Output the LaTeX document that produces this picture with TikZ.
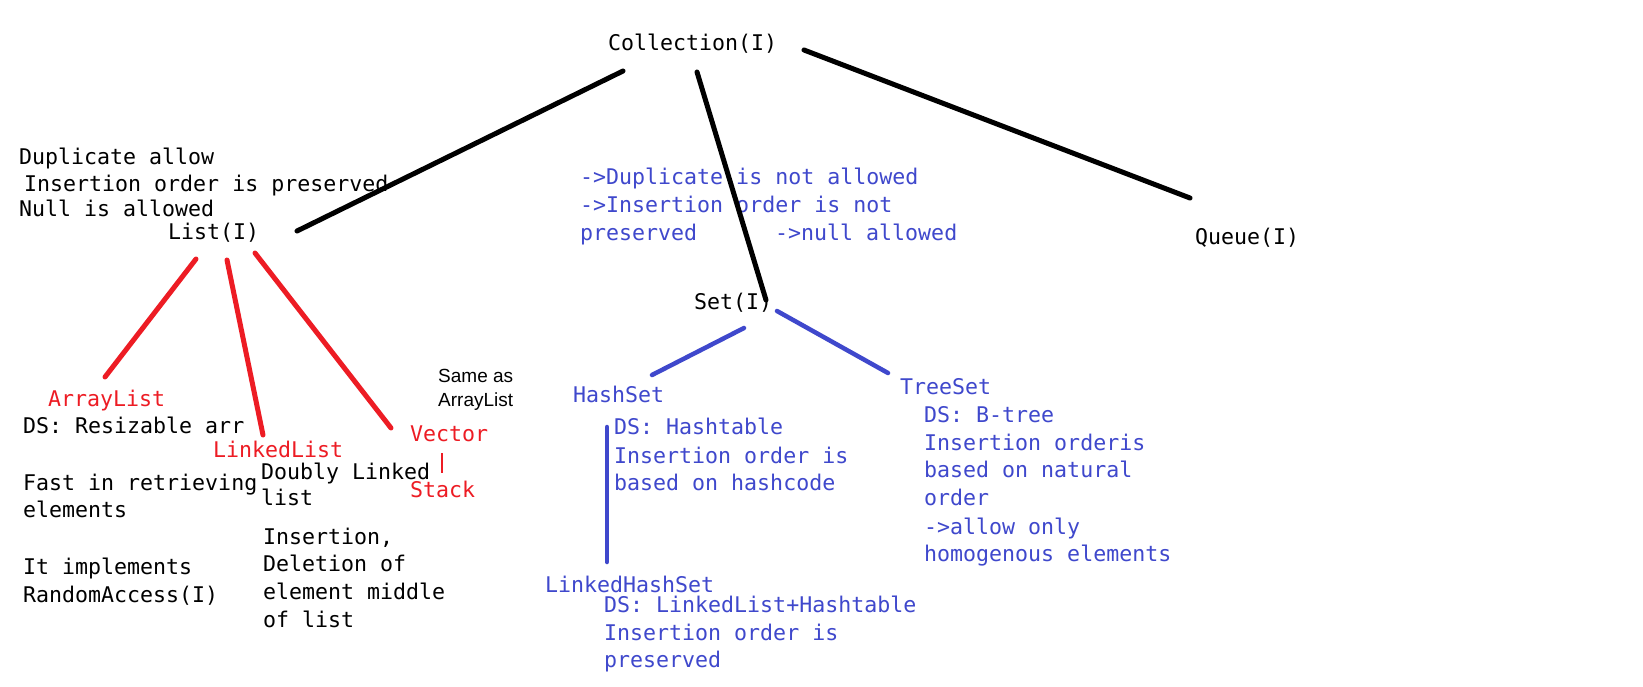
\documentclass[tikz,border=0pt]{standalone}
\usepackage{fontspec}
\newfontfamily\monofont{DejaVu Sans Mono}
\newfontfamily\smallsans{Liberation Sans}
\definecolor{pblue}{HTML}{3F48CC}
\definecolor{pred}{HTML}{ED1C24}
\tikzset{
  txt/.style={font=\monofont\fontsize{21.6}{26}\selectfont, anchor=base west, inner sep=0pt, text=black},
  btxt/.style={txt, text=pblue},
  rtxt/.style={txt, text=pred},
  note/.style={font=\smallsans\fontsize{19}{22}\selectfont, anchor=base west, inner sep=0pt, text=black},
  kline/.style={line width=5pt, line cap=round, black},
  rline/.style={line width=5pt, line cap=round, pred},
  uline/.style={line width=4.5pt, line cap=round, pblue},
}
\begin{document}
\begin{tikzpicture}[x=1pt,y=-1pt]
\useasboundingbox[fill=white] (0,0) rectangle (1643,686);

% main interface nodes
\node[txt] (coll) at (608,50) {Collection(I)};
\node[txt] (list) at (168,239) {List(I)};
\node[txt] (set) at (694,309) {Set(I)};
\node[txt] (queue) at (1195,244) {Queue(I)};

% list notes
\node[txt] (ln1) at (19,164) {Duplicate allow};
\node[txt] (ln2) at (24,191) {Insertion order is preserved};
\node[txt] (ln3) at (19,216) {Null is allowed};

% set notes
\node[btxt] (sn1) at (580,184) {->Duplicate is not allowed};
\node[btxt] (sn2) at (580,212) {->Insertion order is not};
\node[btxt] (sn3) at (580,240) {preserved};
\node[btxt] (sn4) at (775,240) {->null allowed};

% list implementations
\node[rtxt] (al) at (48,406) {ArrayList};
\node[txt] (al1) at (23,433) {DS: Resizable arr};
\node[txt] (al2) at (23,490) {Fast in retrieving};
\node[txt] (al3) at (23,517) {elements};
\node[txt] (al4) at (23,574) {It implements};
\node[txt] (al5) at (23,602) {RandomAccess(I)};

\node[rtxt] (ll) at (213,457) {LinkedList};
\node[txt] (ll1) at (261,479) {Doubly Linked};
\node[txt] (ll2) at (261,505) {list};
\node[txt] (ll3) at (263,544) {Insertion,};
\node[txt] (ll4) at (263,571) {Deletion of};
\node[txt] (ll5) at (263,599) {element middle};
\node[txt] (ll6) at (263,627) {of list};

\node[rtxt] (vec) at (410,441) {Vector};
\node[rtxt] (stk) at (410,497) {Stack};
\node[note] (same1) at (438,382) {Same as};
\node[note] (same2) at (438,406) {ArrayList};

% set implementations
\node[btxt] (hs) at (573,402) {HashSet};
\node[btxt] (hs1) at (614,434) {DS: Hashtable};
\node[btxt] (hs2) at (614,463) {Insertion order is};
\node[btxt] (hs3) at (614,490) {based on hashcode};

\node[btxt] (lhs) at (545,592) {LinkedHashSet};
\node[btxt] (lhs1) at (604,612) {DS: LinkedList+Hashtable};
\node[btxt] (lhs2) at (604,640) {Insertion order is};
\node[btxt] (lhs3) at (604,667) {preserved};

\node[btxt] (ts) at (900,394) {TreeSet};
\node[btxt] (ts1) at (924,422) {DS: B-tree};
\node[btxt] (ts2) at (924,450) {Insertion orderis};
\node[btxt] (ts3) at (924,477) {based on natural};
\node[btxt] (ts4) at (924,505) {order};
\node[btxt] (ts5) at (924,534) {->allow only};
\node[btxt] (ts6) at (924,561) {homogenous elements};

% connector end points
\coordinate (cL) at (623,71);
\coordinate (Lc) at (297,231);
\coordinate (cS) at (697,72);
\coordinate (Sc) at (766,300);
\coordinate (cQ) at (804,50);
\coordinate (Qc) at (1190,198);

\coordinate (La) at (196,259);
\coordinate (aL) at (105,377);
\coordinate (Ll) at (227,260);
\coordinate (lL) at (263,435);
\coordinate (Lv) at (255,253);
\coordinate (vL) at (391,428);
\coordinate (vs1) at (442,453);
\coordinate (vs2) at (442,473);

\coordinate (Sh) at (744,328);
\coordinate (hS) at (652,375);
\coordinate (St) at (777,311);
\coordinate (tS) at (888,373);
\coordinate (hl1) at (607,427);
\coordinate (hl2) at (607,562);

% connectors
\draw[kline] (cL) -- (Lc);
\draw[kline] (cS) -- (Sc);
\draw[kline] (cQ) -- (Qc);

\draw[rline] (La) -- (aL);
\draw[rline] (Ll) -- (lL);
\draw[rline] (Lv) -- (vL);
\draw[pred, line width=2pt] (vs1) -- (vs2);

\draw[uline] (Sh) -- (hS);
\draw[uline] (St) -- (tS);
\draw[uline] (hl1) -- (hl2);
\end{tikzpicture}
\end{document}
